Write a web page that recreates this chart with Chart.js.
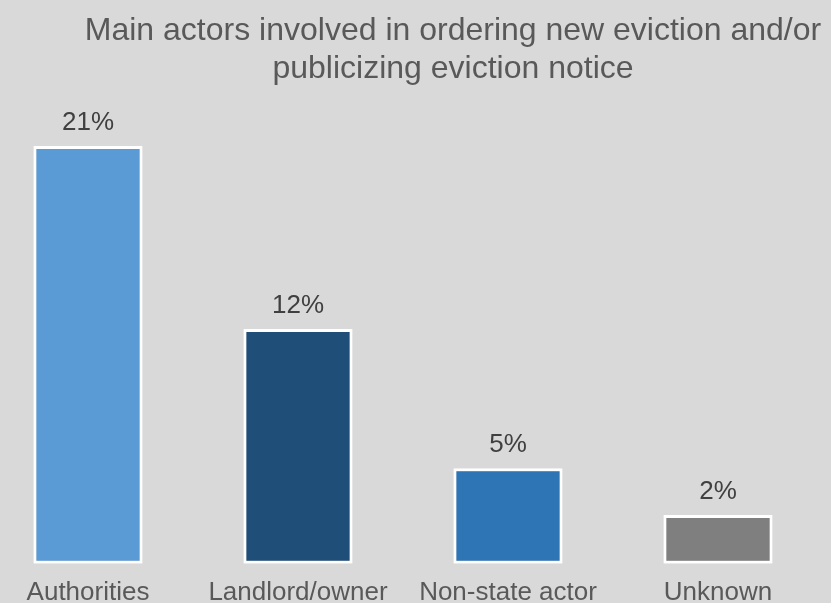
<!DOCTYPE html>
<html>
<head>
<meta charset="utf-8">
<script src="https://cdn.jsdelivr.net/npm/chart.js@4"></script>
<style>
  html, body { margin: 0; padding: 0; background: #d9d9d9; overflow: hidden; width: 831px; height: 603px; }
  #wrap { position: absolute; left: -17px; top: 0; width: 940px; height: 613px; }
</style>
</head>
<body>
<div id="wrap"><canvas id="barChart"></canvas></div>
<script>
// data
const categories = ['Authorities', 'Landlord/owner', 'Non-state actor', 'Unknown'];
const shares = [21.0, 11.8, 4.8, 2.45];
const barColors = ['#5b9bd5', '#1f4e79', '#2e75b6', '#7f7f7f'];

// value labels above each bar
const valueLabels = {
  id: 'valueLabels',
  afterDatasetsDraw(chart) {
    const ctx = chart.ctx;
    const meta = chart.getDatasetMeta(0);
    ctx.save();
    ctx.font = '26px "Liberation Sans", Arial, sans-serif';
    ctx.fillStyle = '#404040';
    ctx.textAlign = 'center';
    ctx.textBaseline = 'middle';
    meta.data.forEach((bar, i) => {
      ctx.fillText(Math.round(shares[i]) + '%', bar.x, bar.y - 23);
    });
    ctx.restore();
  }
};

new Chart(document.getElementById('barChart'), {
  type: 'bar',
  data: {
    labels: categories,
    datasets: [{
      data: shares,
      backgroundColor: barColors,
      borderColor: '#ffffff',
      borderWidth: 3,
      borderSkipped: false,
      barPercentage: 0.52,
      categoryPercentage: 1
    }]
  },
  options: {
    responsive: true,
    maintainAspectRatio: false,
    animation: false,
    layout: { padding: 0 },
    plugins: {
      legend: { display: false },
      tooltip: { enabled: false },
      title: {
        display: true,
        text: ['Main actors involved in ordering new eviction and/or', 'publicizing eviction notice'],
        color: '#595959',
        font: { family: '"Liberation Sans", Arial, sans-serif', size: 32, weight: 'normal', lineHeight: 1.19 },
        padding: { top: 12, bottom: 14 }
      }
    },
    scales: {
      x: {
        grid: { display: false },
        border: { display: false },
        ticks: {
          color: '#595959',
          font: { family: '"Liberation Sans", Arial, sans-serif', size: 26 },
          padding: 5,
          maxRotation: 0,
          autoSkip: false
        }
      },
      y: {
        position: 'right',
        min: 0,
        max: 23.2,
        grid: { display: false },
        border: { display: false },
        ticks: { display: false },
        afterFit(scale) { scale.width = 100; }
      }
    }
  },
  plugins: [valueLabels]
});
</script>
</body>
</html>
